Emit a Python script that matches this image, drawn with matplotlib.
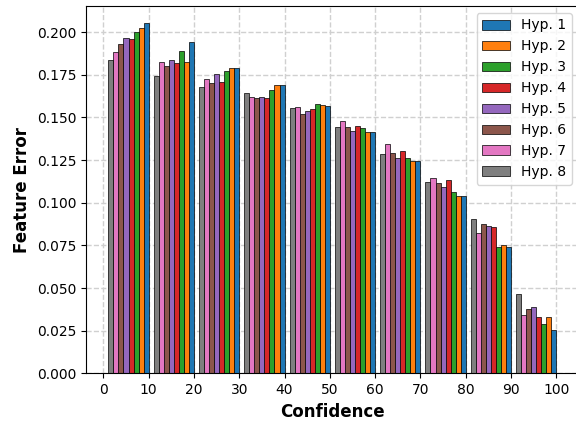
import matplotlib
matplotlib.use("Agg")
import matplotlib.pyplot as plt
import numpy as np

bins = [10, 20, 30, 40, 50, 60, 70, 80, 90, 100]
labels = ["Hyp. 1", "Hyp. 2", "Hyp. 3", "Hyp. 4", "Hyp. 5", "Hyp. 6", "Hyp. 7", "Hyp. 8"]

hyp1 = [0.2051, 0.1943, 0.1790, 0.1690, 0.1565, 0.1416, 0.1247, 0.1041, 0.0739, 0.0253]
hyp2 = [0.2024, 0.1828, 0.1792, 0.1690, 0.1571, 0.1416, 0.1247, 0.1041, 0.0755, 0.0331]
hyp3 = [0.2000, 0.1888, 0.1774, 0.1663, 0.1578, 0.1439, 0.1263, 0.1062, 0.0739, 0.0288]
hyp4 = [0.1959, 0.1822, 0.1706, 0.1612, 0.1549, 0.1450, 0.1304, 0.1136, 0.0859, 0.0331]
hyp5 = [0.1965, 0.1839, 0.1753, 0.1622, 0.1537, 0.1418, 0.1263, 0.1092, 0.0863, 0.0386]
hyp6 = [0.1931, 0.1800, 0.1700, 0.1616, 0.1522, 0.1445, 0.1290, 0.1116, 0.0873, 0.0376]
hyp7 = [0.1884, 0.1824, 0.1724, 0.1620, 0.1563, 0.1480, 0.1347, 0.1145, 0.0822, 0.0341]
hyp8 = [0.1835, 0.1741, 0.1676, 0.1643, 0.1555, 0.1445, 0.1284, 0.1124, 0.0904, 0.0463]

series = [hyp1, hyp2, hyp3, hyp4, hyp5, hyp6, hyp7, hyp8]
colors = ["tab:blue", "tab:orange", "tab:green", "tab:red",
          "tab:purple", "tab:brown", "tab:pink", "tab:gray"]

fig = plt.figure(figsize=(5.76, 4.21), dpi=100)
ax = fig.add_axes([86/576, 47.7/421, 492.7/576, 367.3/421])

w = 10/9
edges = np.array(bins, dtype=float)
for k, (vals, c, lab) in enumerate(zip(series, colors, labels)):
    ax.bar(edges - k*w, vals, width=-w, align="edge", color=c,
           edgecolor="black", linewidth=0.5, label=lab)

ax.set_axisbelow(True)
ax.grid(True, linestyle="--", color="#d0d0d0", linewidth=1.0)
ax.set_xticks(np.arange(0, 101, 10))
ax.set_yticks(np.arange(0, 0.2001, 0.025))
ax.yaxis.set_major_formatter(matplotlib.ticker.FormatStrFormatter("%.3f"))
ax.set_xlabel("Confidence", fontsize=12, fontweight="bold")
ax.set_ylabel("Feature Error", fontsize=12, fontweight="bold")
ax.legend(loc="upper right")

fig.savefig("out.png", dpi=100)
